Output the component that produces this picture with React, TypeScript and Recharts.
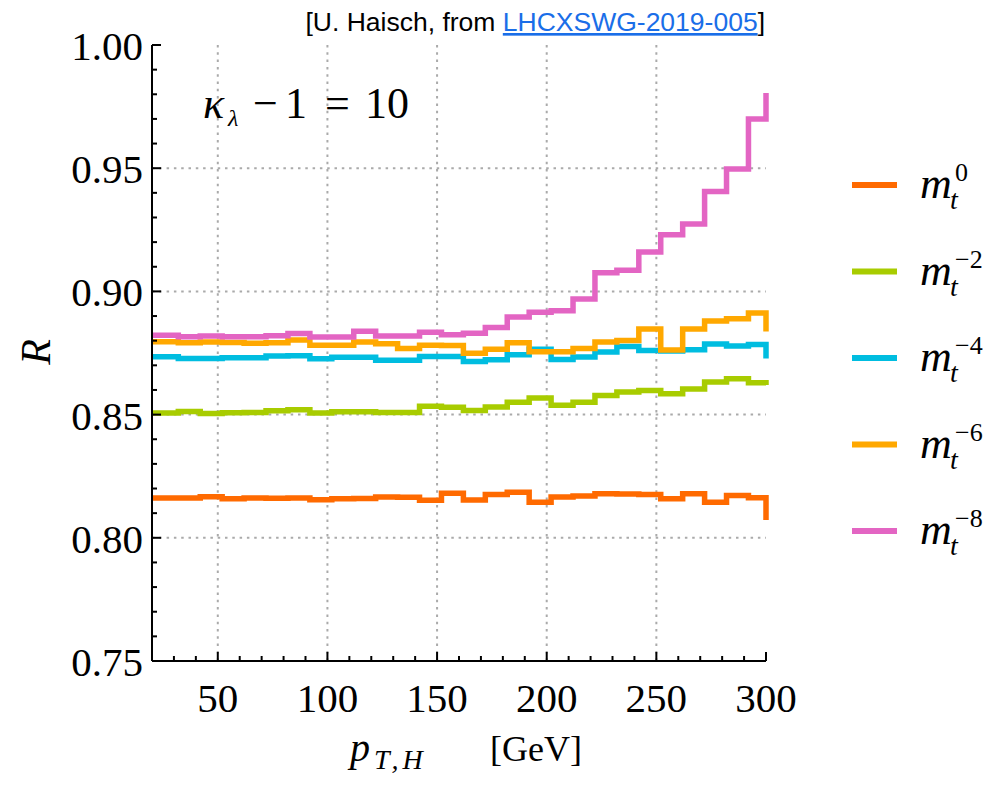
import { LineChart, Line, XAxis, YAxis, CartesianGrid } from 'recharts';

// bin edges of the step histograms (first/last bins are cut by the frame)
const pT = [20, 22, 32, 42, 52, 62, 72, 82, 92, 102, 112, 122, 132, 142, 152, 162, 172, 182, 192, 202, 212, 222, 232, 242, 252, 262, 272, 282, 292, 300];

const ratioMt0 = [0.8162, 0.8162, 0.8162, 0.8167, 0.8158, 0.8162, 0.8161, 0.8162, 0.8154, 0.8158, 0.816, 0.8166, 0.8165, 0.8152, 0.8181, 0.8153, 0.8176, 0.8185, 0.8144, 0.8166, 0.817, 0.8179, 0.8178, 0.8176, 0.8158, 0.8179, 0.8144, 0.8172, 0.8163, 0.8072];
const ratioMt2 = [0.8506, 0.8506, 0.8513, 0.8504, 0.8508, 0.8509, 0.8516, 0.852, 0.8507, 0.8512, 0.8512, 0.8509, 0.8509, 0.8534, 0.853, 0.8517, 0.8531, 0.855, 0.8567, 0.8538, 0.855, 0.8578, 0.8592, 0.8598, 0.8585, 0.8604, 0.8632, 0.8645, 0.8629, 0.862];
const ratioMt4 = [0.8735, 0.8735, 0.8728, 0.8728, 0.8731, 0.8731, 0.8738, 0.8739, 0.8727, 0.8733, 0.8733, 0.8721, 0.8721, 0.8736, 0.8736, 0.8715, 0.8723, 0.8743, 0.8765, 0.8724, 0.8734, 0.8754, 0.8776, 0.876, 0.8758, 0.8763, 0.8787, 0.8778, 0.8785, 0.8728];
const ratioMt6 = [0.8796, 0.8796, 0.8792, 0.8795, 0.8793, 0.879, 0.8792, 0.8803, 0.8781, 0.8781, 0.8795, 0.8788, 0.8768, 0.8781, 0.878, 0.8749, 0.8765, 0.8792, 0.8755, 0.8755, 0.8768, 0.8795, 0.8801, 0.8847, 0.8762, 0.8847, 0.888, 0.8889, 0.8912, 0.8837];
const ratioMt8 = [0.8822, 0.8822, 0.8816, 0.8819, 0.8816, 0.8816, 0.882, 0.8829, 0.8815, 0.8815, 0.8838, 0.8819, 0.8819, 0.8834, 0.8824, 0.883, 0.8853, 0.8896, 0.8915, 0.8921, 0.8969, 0.9076, 0.9086, 0.916, 0.923, 0.9274, 0.9405, 0.9497, 0.97, 0.9805];

const xTicks = [20, 30, 40, 50, 60, 70, 80, 90, 100, 110, 120, 130, 140, 150, 160, 170, 180, 190, 200, 210, 220, 230, 240, 250, 260, 270, 280, 290, 300];
const xLabels = [50, 100, 150, 200, 250, 300];
const xGrid = [50, 100, 150, 200, 250];
const yTicks = [0.75, 0.76, 0.77, 0.78, 0.79, 0.8, 0.81, 0.82, 0.83, 0.84, 0.85, 0.86, 0.87, 0.88, 0.89, 0.9, 0.91, 0.92, 0.93, 0.94, 0.95, 0.96, 0.97, 0.98, 0.99, 1.0];
const yLabels = [0.75, 0.8, 0.85, 0.9, 0.95, 1.0];
const yGrid = [0.8, 0.85, 0.9, 0.95];

const series = [
  { key: 'mt0', values: ratioMt0, color: '#ff6a00', power: '0' },
  { key: 'mt2', values: ratioMt2, color: '#a8cc00', power: '\u22122' },
  { key: 'mt4', values: ratioMt4, color: '#00bde0', power: '\u22124' },
  { key: 'mt6', values: ratioMt6, color: '#ffa800', power: '\u22126' },
  { key: 'mt8', values: ratioMt8, color: '#e365c3', power: '\u22128' },
];

const data = pT.map((x, i) => {
  const row: any = { pT: x };
  series.forEach((s) => { row[s.key] = s.values[i]; });
  return row;
});

const SERIF = '"Liberation Serif", "Times New Roman", serif';
const SANS = '"Liberation Sans", Arial, sans-serif';

const isMajor = (v: number, list: number[]) => list.some((m) => Math.abs(m - v) < 1e-6);

function BottomTick(props: any) {
  const { x, y, payload } = props;
  const major = isMajor(payload.value, xLabels);
  return (
    <g>
      <line x1={x} x2={x} y1={y} y2={y - (major ? 9 : 5)} stroke="#000" strokeWidth={2} />
      {major && (
        <text x={x} y={y + 51} textAnchor="middle" fontSize={41} fontFamily={SERIF} fill="#000">
          {payload.value}
        </text>
      )}
    </g>
  );
}

function TopTick(props: any) {
  const { x, y, payload } = props;
  const major = isMajor(payload.value, xLabels);
  return <line x1={x} x2={x} y1={y} y2={y + (major ? 9 : 5)} stroke="#000" strokeWidth={2} />;
}

function LeftTick(props: any) {
  const { x, y, payload } = props;
  const major = isMajor(payload.value, yLabels);
  return (
    <g>
      <line x1={x} x2={x + (major ? 9 : 5)} y1={y} y2={y} stroke="#000" strokeWidth={2} />
      {major && (
        <text x={x - 9} y={y + 15} textAnchor="end" fontSize={41} fontFamily={SERIF} fill="#000">
          {payload.value.toFixed(2)}
        </text>
      )}
    </g>
  );
}

function RightTick(props: any) {
  const { x, y, payload } = props;
  const major = isMajor(payload.value, yLabels);
  return <line x1={x} x2={x - (major ? 9 : 5)} y1={y} y2={y} stroke="#000" strokeWidth={2} />;
}

export default function App() {
  return (
    <div style={{ position: 'absolute', left: 0, top: 0, width: 996, height: 787, background: '#fff' }}>
      <LineChart width={996} height={787} data={data} margin={{ top: 45, right: 230, bottom: 0, left: 0 }}>
        <CartesianGrid
          horizontal
          vertical
          horizontalValues={yGrid}
          verticalValues={xGrid}
          stroke="#aaaaaa"
          strokeWidth={2}
          strokeDasharray="2.5 4.8"
        />
        <XAxis
          dataKey="pT"
          type="number"
          domain={[20, 300]}
          ticks={xTicks}
          interval={0}
          height={126}
          tickSize={0}
          tickMargin={0}
          tickLine={false}
          axisLine={{ stroke: '#000', strokeWidth: 2 }}
          tick={<BottomTick />}
        />
        <XAxis
          xAxisId="top"
          orientation="top"
          dataKey="pT"
          type="number"
          domain={[20, 300]}
          ticks={xTicks}
          interval={0}
          height={0}
          tickSize={0}
          tickMargin={0}
          tickLine={false}
          axisLine={{ stroke: '#000', strokeWidth: 2 }}
          tick={<TopTick />}
        />
        <YAxis
          type="number"
          domain={[0.75, 1.0]}
          ticks={yTicks}
          interval={0}
          width={152}
          tickSize={0}
          tickMargin={0}
          tickLine={false}
          axisLine={{ stroke: '#000', strokeWidth: 2 }}
          tick={<LeftTick />}
        />
        <YAxis
          yAxisId="right"
          orientation="right"
          type="number"
          domain={[0.75, 1.0]}
          ticks={yTicks}
          interval={0}
          width={0}
          tickSize={0}
          tickMargin={0}
          tickLine={false}
          axisLine={{ stroke: '#000', strokeWidth: 2 }}
          tick={<RightTick />}
        />
        {series.map((s) => (
          <Line
            key={s.key}
            dataKey={s.key}
            type="stepAfter"
            stroke={s.color}
            strokeWidth={5.5}
            strokeLinejoin="miter"
            dot={false}
            activeDot={false}
            isAnimationActive={false}
          />
        ))}
      </LineChart>
      <svg width={996} height={787} style={{ position: 'absolute', left: 0, top: 0, pointerEvents: 'none' }}>
        <text x={765} y={31} textAnchor="end" fontSize={26.5} fontFamily={SANS} fill="#000">
          [U. Haisch, from{' '}
          <tspan fill="#1a6ee8" style={{ textDecoration: 'underline' }}>LHCXSWG-2019-005</tspan>]
        </text>
        <g fontFamily={SERIF} fill="#000">
          <text x={203} y={118} fontSize={44} fontStyle="italic">κ</text>
          <text x={228} y={126} fontSize={24} fontStyle="italic">λ</text>
          <text x={253} y={118} fontSize={44}>{'\u2212'}</text>
          <text x={285} y={118} fontSize={44}>1</text>
          <text x={325} y={118} fontSize={44}>=</text>
          <text x={365} y={118} fontSize={44}>10</text>
        </g>
        <text
          x={36}
          y={352}
          transform="rotate(-90 36 352)"
          textAnchor="middle"
          dominantBaseline="central"
          fontSize={42}
          fontStyle="italic"
          fontFamily={SERIF}
          fill="#000"
        >
          R
        </text>
        <text x={350} y={761} fontSize={40} fontStyle="italic" fontFamily={SERIF} fill="#000">p</text>
        <text x={374} y={769} fontSize={28} fontStyle="italic" letterSpacing={4} fontFamily={SERIF} fill="#000">T,H</text>
        <text x={490} y={761} fontSize={36} fontFamily={SERIF} fill="#000">[GeV]</text>
        {series.map((s, i) => {
          const ly = 185 + i * 86.5;
          return (
            <g key={s.key}>
              <line x1={852} x2={897} y1={ly} y2={ly} stroke={s.color} strokeWidth={6} />
              <text x={920} y={ly + 13} fontSize={44} fontStyle="italic" fontFamily={SERIF} fill="#000">m</text>
              <text x={950} y={ly + 24} fontSize={28} fontStyle="italic" fontFamily={SERIF} fill="#000">t</text>
              <text x={955} y={ly - 4} fontSize={26} fontFamily={SERIF} fill="#000">{s.power}</text>
            </g>
          );
        })}
      </svg>
    </div>
  );
}
